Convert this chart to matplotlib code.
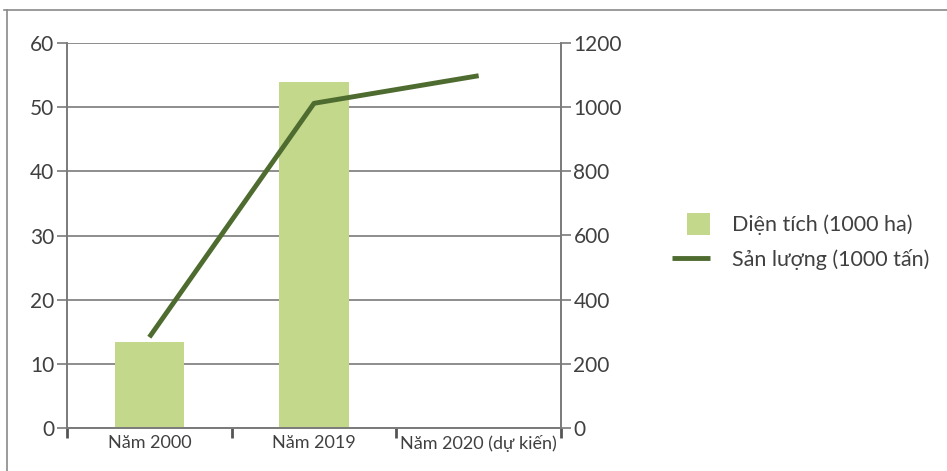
import matplotlib.pyplot as plt
from matplotlib.lines import Line2D
from matplotlib.patches import Rectangle
from matplotlib.legend_handler import HandlerPatch

plt.rcParams['font.family'] = ['Lato', 'DejaVu Sans']

categories = ['Năm 2000', 'Năm 2019', 'Năm 2020 (dự kiến)']
area = [13.4, 53.9, None]          # Diện tích (1000 ha)
output = [283, 1012, 1098]          # Sản lượng (1000 tấn)
left_ticks = [0, 10, 20, 30, 40, 50, 60]
right_ticks = [0, 200, 400, 600, 800, 1000, 1200]

bar_color = '#c3d88b'
line_color = '#4e6b30'
axis_color = '#7a7a7a'
text_color = '#404040'


def square_patch(legend, orig_handle, xdescent, ydescent, width, height, fontsize):
    # square swatch, right-aligned inside the handle box
    side = fontsize * 1.05
    return Rectangle((width - side - xdescent, height / 2 - side / 2 - ydescent), side, side)


fig = plt.figure(figsize=(9.47, 4.71), dpi=100)
ax = fig.add_axes([67 / 947, 1 - 428 / 471, (561 - 67) / 947, (428 - 43) / 471])
ax2 = ax.twinx()

x = list(range(len(categories)))
bx = [i for i, v in zip(x, area) if v is not None]
bv = [v for v in area if v is not None]
bars = ax.bar(bx, bv, width=0.42, color=bar_color, zorder=2)
line, = ax2.plot(x, output, color=line_color, lw=3.5, solid_capstyle='butt', zorder=3)

ax.set_xlim(-0.5, 2.5)
ax.set_ylim(0, 60)
ax2.set_ylim(0, 1200)
ax.set_yticks(left_ticks)
ax2.set_yticks(right_ticks)
ax.yaxis.grid(True, color=axis_color, lw=1.2, zorder=0)
ax.set_axisbelow(True)

for a in (ax, ax2):
    a.spines['top'].set_visible(False)
    for s in ('left', 'right', 'bottom'):
        a.spines[s].set_color(axis_color)
        a.spines[s].set_linewidth(1.2)
    a.tick_params(axis='y', colors=axis_color, labelcolor=text_color, labelsize=15,
                  length=7, width=1.2, pad=2)

ax.set_xticks(x)
ax.set_xticklabels(categories)
ax.tick_params(axis='x', length=0, labelsize=13, labelcolor=text_color, pad=5)
# boundary ticks between categories
ax.set_xticks([-0.5, 0.5, 1.5, 2.5], minor=True)
ax.tick_params(axis='x', which='minor', length=7, width=2, color='#555555')

# legend
swatch = bars.patches[0]
fig.legend([swatch, line], ['Diện tích (1000 ha)', 'Sản lượng (1000 tấn)'],
           loc='center left', bbox_to_anchor=(653 / 947, 1 - 242 / 471),
           frameon=False, fontsize=15.5, labelcolor=text_color, handlelength=1.75,
           handleheight=1.1, labelspacing=0.62, handletextpad=1.0,
           handler_map={Rectangle: HandlerPatch(patch_func=square_patch)})

# outer frame lines
fig.add_artist(Line2D([4 / 947, 1], [1 - 10 / 471] * 2, color='#8a8a8a', lw=1.2))
fig.add_artist(Line2D([7 / 947] * 2, [0, 1 - 10 / 471], color='#8a8a8a', lw=1.2))

fig.savefig('out.png', dpi=100)
